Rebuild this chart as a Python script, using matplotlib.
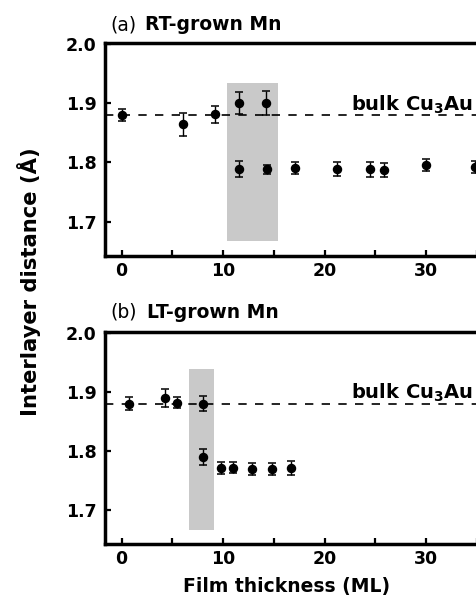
import matplotlib
matplotlib.use("Agg")
import matplotlib.pyplot as plt
from matplotlib.patches import Rectangle

plt.rcParams["font.family"] = "DejaVu Sans"
plt.rcParams["mathtext.fontset"] = "dejavusans"

# ── data ──────────────────────────────────────────────────────────────────
# (a) RT-grown Mn
rt_thickness = [0, 6.1, 9.2, 11.6, 14.2, 11.6, 14.3, 17.1, 21.2, 24.5, 25.8, 30.0, 34.8]
rt_distance = [1.880, 1.864, 1.881, 1.900, 1.900, 1.789, 1.788, 1.790, 1.789, 1.788, 1.787, 1.795, 1.792]
rt_error = [0.010, 0.019, 0.014, 0.019, 0.020, 0.013, 0.008, 0.010, 0.012, 0.012, 0.012, 0.010, 0.010]

# (b) LT-grown Mn
lt_thickness = [0.7, 4.3, 5.5, 8.0, 8.0, 9.8, 11.0, 12.8, 14.8, 16.7]
lt_distance = [1.880, 1.890, 1.882, 1.880, 1.790, 1.771, 1.772, 1.770, 1.769, 1.771]
lt_error = [0.011, 0.015, 0.010, 0.013, 0.013, 0.010, 0.010, 0.010, 0.010, 0.012]

bulk_cu3au = 1.88

# shaded coexistence ranges: (x0, x1, y0, y1)
rt_shade = [10.35, 15.4, 1.667, 1.934]
lt_shade = [6.6, 9.1, 1.666, 1.939]

x_ticks = [0, 10, 20, 30]
x_minor = [5, 15, 25, 35]
y_ticks = [1.7, 1.8, 1.9, 2.0]

fig = plt.figure(figsize=(4.77, 6.02), dpi=100)
fig.patch.set_facecolor("white")

ax_a = fig.add_axes([0.2201, 0.5748, 0.7799, 0.3543])
ax_b = fig.add_axes([0.2201, 0.0958, 0.7799, 0.3532])


def panel(ax, xs, ys, errs, shade):
    x0, x1, y0, y1 = shade
    ax.add_patch(Rectangle((x0, y0), x1 - x0, y1 - y0, facecolor="#c9c9c9",
                           edgecolor="none", zorder=1))
    ax.axhline(bulk_cu3au, color="black", lw=1.2, linestyle=(0, (5.0, 5.0)), zorder=2)
    ax.errorbar(xs, ys, yerr=errs, fmt="o", color="black", ms=5.8,
                elinewidth=1.0, capsize=3.2, capthick=1.1, zorder=3)
    ax.text(34.6, 1.888, r"bulk Cu$_\mathbf{3}$Au", ha="right", va="baseline",
            fontsize=14, fontweight="bold", zorder=4)

    ax.set_xlim(-1.63, 34.77)
    ax.set_ylim(1.642, 2.002)
    ax.set_xticks(x_ticks)
    ax.set_xticks(x_minor, minor=True)
    ax.set_yticks(y_ticks)
    ax.set_yticklabels([f"{v:.1f}" for v in y_ticks])
    ax.spines["right"].set_visible(False)
    for s in ("left", "top", "bottom"):
        ax.spines[s].set_linewidth(2.5)
    ax.tick_params(which="both", direction="in", width=1.6, length=4.5,
                   labelsize=12.5, right=False, top=False)
    ax.tick_params(axis="x", pad=4)
    ax.tick_params(axis="y", pad=6)
    for lbl in ax.get_xticklabels() + ax.get_yticklabels():
        lbl.set_fontweight("bold")


panel(ax_a, rt_thickness, rt_distance, rt_error, rt_shade)
panel(ax_b, lt_thickness, lt_distance, lt_error, lt_shade)

# panel titles
fig.text(0.2306, 0.9585, "(a)", fontsize=13.5, va="center")
fig.text(0.304, 0.9585, "RT-grown Mn", fontsize=13.5, fontweight="bold", va="center")
fig.text(0.2306, 0.4817, "(b)", fontsize=13.5, va="center")
fig.text(0.308, 0.4817, "LT-grown Mn", fontsize=13.5, fontweight="bold", va="center")

# shared axis labels
fig.text(0.061, 0.532, "Interlayer distance (Å)", rotation=90, fontsize=15.2,
         fontweight="bold", ha="center", va="center")
fig.text(0.60, 0.017, "Film thickness (ML)", fontsize=13.5, fontweight="bold",
         ha="center", va="baseline")

fig.savefig("out.png", dpi=100, facecolor="white")
